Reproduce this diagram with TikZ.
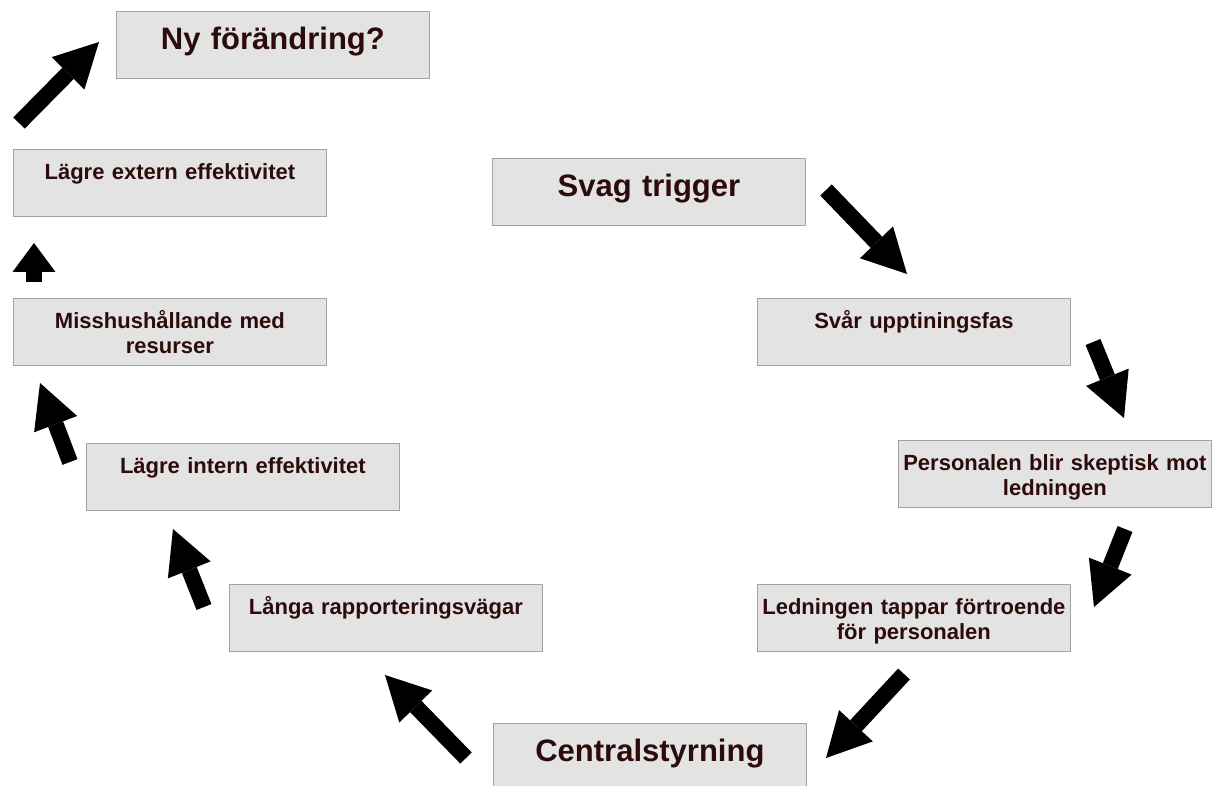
\documentclass[tikz,border=0pt]{standalone}
\usepackage{fontspec}
\setmainfont{Liberation Sans}
\usepackage{xcolor}
\definecolor{cFill}{HTML}{E3E3E3}
\definecolor{cLine}{HTML}{A3A3A3}
\definecolor{cText}{HTML}{2D0B0B}
\usetikzlibrary{arrows.meta}
\tikzset{
  node-box/.style={draw=cLine,fill=cFill,line width=0.8pt,anchor=north west,
    inner sep=0pt,text width=313pt,align=center,text height=30pt,text depth=37pt,
    text=cText,font=\fontsize{22pt}{25pt}\selectfont\bfseries},
  node-big/.style={node-box,text height=38pt,text depth=29pt,
    font=\fontsize{31pt}{36pt}\selectfont\bfseries},
  arrow-block/.style={-{Triangle[length=44pt,width=46pt,line width=0pt]},
    line width=16pt,draw=black},
  arrow-short/.style={arrow-block,-{Triangle[length=29pt,width=43pt,line width=0pt]}},
}

\begin{document}
\begin{tikzpicture}[x=1pt,y=-1pt]
  \useasboundingbox (0,0) rectangle (1212,786);
  \clip (0,0) rectangle (1212,786);
  % the cycle of boxes
  \node[node-big] (ny) at (116,11) {Ny förändring?};
  \node[node-box] (extern) at (13,149) {Lägre extern effektivitet};
  \node[node-big] (trigger) at (492,158) {Svag trigger};
  \node[node-box] (upptining) at (757,298) {Svår upptiningsfas};
  \node[node-box] (resurser) at (13,298) {Misshushållande med\\resurser};
  \node[node-box] (skeptisk) at (898,440) {Personalen blir skeptisk mot\\ledningen};
  \node[node-box] (intern) at (86,443) {Lägre intern effektivitet};
  \node[node-box] (fortroende) at (757,584) {Ledningen tappar förtroende\\för personalen};
  \node[node-box] (rapport) at (229,584) {Långa rapporteringsvägar};
  \node[node-big] (central) at (493,723) {Centralstyrning};
  % block arrows between the boxes
  \foreach \name/\sx/\sy/\ex/\ey in {trig-upp/826/190/907/274, upp-skep/1093/342/1124/418,
      skep-fort/1125/529/1094/607, fort-cent/904/674/826/758, cent-rapp/466/758/385/675,
      rapp-int/204/607/173/529, int-res/70/462/40/383, ext-ny/19/123/99/42} {
    \coordinate (\name-s) at (\sx,\sy);
    \coordinate (\name-e) at (\ex,\ey);
    \draw[arrow-block] (\name-s) -- (\name-e);
  }
  \coordinate (res-ext-s) at (34,282);
  \coordinate (res-ext-e) at (34,243);
  \draw[arrow-short] (res-ext-s) -- (res-ext-e);
\end{tikzpicture}
\end{document}
